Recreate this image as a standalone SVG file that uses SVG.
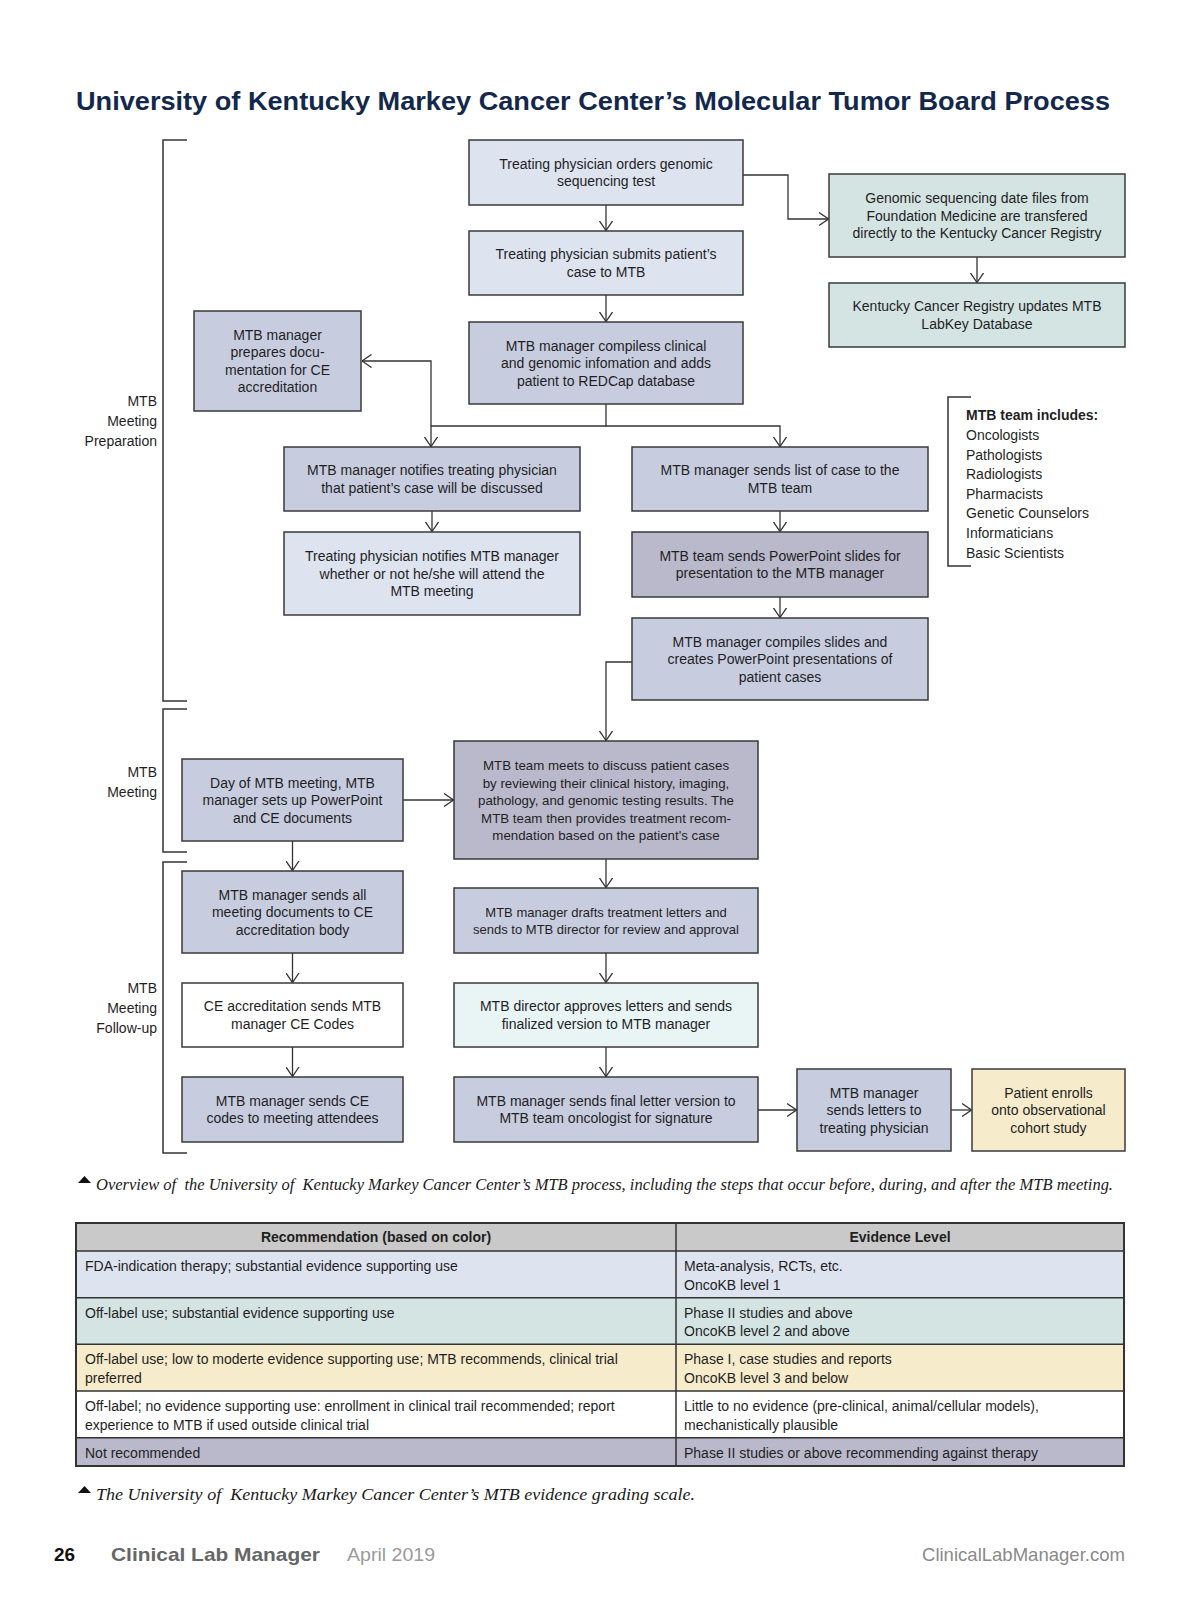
<svg xmlns="http://www.w3.org/2000/svg" width="1200" height="1613" viewBox="0 0 1200 1613">
<defs>
<marker id="ah" viewBox="0 0 10 14" refX="9.5" refY="7" markerWidth="10" markerHeight="14" markerUnits="userSpaceOnUse" orient="auto">
<path d="M0,0.5 L9.5,7 L0,13.5" fill="none" stroke="#333" stroke-width="1.3"/>
</marker>
<style>
.box{stroke:#3a3a3a;stroke-width:1.5}
.lb{fill:#dde3ef}.mb{fill:#c7cddf}.db{fill:#bab9cb}.tl{fill:#d4e4e3}.cy{fill:#e9f4f5}.cr{fill:#f6ebcb}.wh{fill:#ffffff}.hd{fill:#c9c9c9}
.t{font-family:"Liberation Sans",Arial,sans-serif;font-size:14px;fill:#1f1f1f;text-anchor:middle}
.c{font-size:13.3px}.c2{font-size:13px}
.l{font-family:"Liberation Sans",Arial,sans-serif;font-size:14px;fill:#1f1f1f}
.r{font-family:"Liberation Sans",Arial,sans-serif;font-size:14px;fill:#1f1f1f;text-anchor:end}
.b{font-weight:bold}
.conn path{fill:none;stroke:#333;stroke-width:1.3}
.brk path{fill:none;stroke:#333;stroke-width:1.5}
.cap{font-family:"Liberation Serif","Times New Roman",serif;font-style:italic;font-size:17px;fill:#1a1a1a}
</style>
</defs>
<rect width="1200" height="1613" fill="#ffffff"/>

<text x="76" y="110" font-family="Liberation Sans,Arial,sans-serif" font-weight="bold" font-size="26" fill="#14284b" textLength="1034" lengthAdjust="spacingAndGlyphs">University of Kentucky Markey Cancer Center’s Molecular Tumor Board Process</text>

<g class="brk">
<path d="M187,140 H163 V701 H187"/>
<path d="M187,709 H163 V852 H187"/>
<path d="M187,862 H163 V1153 H187"/>
<path d="M971,397 H948 V566 H971"/>
</g>
<g id="phase-labels">
<text class="r" x="157" y="406">MTB</text>
<text class="r" x="157" y="426">Meeting</text>
<text class="r" x="157" y="446">Preparation</text>
<text class="r" x="157" y="777">MTB</text>
<text class="r" x="157" y="797">Meeting</text>
<text class="r" x="157" y="993">MTB</text>
<text class="r" x="157" y="1013">Meeting</text>
<text class="r" x="157" y="1033">Follow-up</text>
</g>
<g id="team-list">
<text class="l b" x="966" y="420">MTB team includes:</text>
<text class="l" x="966" y="440">Oncologists</text>
<text class="l" x="966" y="459.6">Pathologists</text>
<text class="l" x="966" y="479.2">Radiologists</text>
<text class="l" x="966" y="498.8">Pharmacists</text>
<text class="l" x="966" y="518.4">Genetic Counselors</text>
<text class="l" x="966" y="538">Informaticians</text>
<text class="l" x="966" y="557.6">Basic Scientists</text>
</g>

<g class="conn">
<path d="M606,205 V230.5" marker-end="url(#ah)"/>
<path d="M606,295 V321.5" marker-end="url(#ah)"/>
<path d="M606,404 V426 H780 V446.5" marker-end="url(#ah)"/>
<path d="M606,426 H431 V446.5" marker-end="url(#ah)"/>
<path d="M431,426 V361 H362" marker-end="url(#ah)"/>
<path d="M743,175 H788 V219 H828.5" marker-end="url(#ah)"/>
<path d="M977,257 V282.5" marker-end="url(#ah)"/>
<path d="M432,511 V531.5" marker-end="url(#ah)"/>
<path d="M780,511 V531.5" marker-end="url(#ah)"/>
<path d="M780,597 V617.5" marker-end="url(#ah)"/>
<path d="M632,662 H606 V740.5" marker-end="url(#ah)"/>
<path d="M403,800 H453.5" marker-end="url(#ah)"/>
<path d="M292.5,841 V870.5" marker-end="url(#ah)"/>
<path d="M292.5,953 V982.5" marker-end="url(#ah)"/>
<path d="M292.5,1047 V1076.5" marker-end="url(#ah)"/>
<path d="M606,859 V887.5" marker-end="url(#ah)"/>
<path d="M606,953 V982.5" marker-end="url(#ah)"/>
<path d="M606,1047 V1076.5" marker-end="url(#ah)"/>
<path d="M758,1110 H796.5" marker-end="url(#ah)"/>
<path d="M951,1110 H971.5" marker-end="url(#ah)"/>
</g>

<g id="n1"><rect class="box lb" x="469" y="140" width="274" height="65"/>
<text class="t"><tspan x="606" y="168.8">Treating physician orders genomic</tspan><tspan x="606" y="186.3">sequencing test</tspan></text></g>
<g id="n2"><rect class="box lb" x="469" y="231" width="274" height="64"/>
<text class="t"><tspan x="606" y="259.3">Treating physician submits patient’s</tspan><tspan x="606" y="276.8">case to MTB</tspan></text></g>
<g id="n3"><rect class="box mb" x="469" y="322" width="274" height="82"/>
<text class="t"><tspan x="606" y="350.5">MTB manager compiless clinical</tspan><tspan x="606" y="368">and genomic infomation and adds</tspan><tspan x="606" y="385.5">patient to REDCap database</tspan></text></g>
<g id="n4"><rect class="box tl" x="829" y="174" width="296" height="83"/>
<text class="t"><tspan x="977" y="203">Genomic sequencing date files from</tspan><tspan x="977" y="220.5">Foundation Medicine are transfered</tspan><tspan x="977" y="238">directly to the Kentucky Cancer Registry</tspan></text></g>
<g id="n5"><rect class="box tl" x="829" y="283" width="296" height="64"/>
<text class="t"><tspan x="977" y="311.3">Kentucky Cancer Registry updates MTB</tspan><tspan x="977" y="328.8">LabKey Database</tspan></text></g>
<g id="n6"><rect class="box mb" x="194" y="311" width="167" height="100"/>
<text class="t"><tspan x="277.5" y="339.8">MTB manager</tspan><tspan x="277.5" y="357.3">prepares docu-</tspan><tspan x="277.5" y="374.8">mentation for CE</tspan><tspan x="277.5" y="392.3">accreditation</tspan></text></g>
<g id="n7"><rect class="box mb" x="284" y="447" width="296" height="64"/>
<text class="t"><tspan x="432" y="475.3">MTB manager notifies treating physician</tspan><tspan x="432" y="492.8">that patient’s case will be discussed</tspan></text></g>
<g id="n8"><rect class="box mb" x="632" y="447" width="296" height="64"/>
<text class="t"><tspan x="780" y="475.3">MTB manager sends list of case to the</tspan><tspan x="780" y="492.8">MTB team</tspan></text></g>
<g id="n9"><rect class="box lb" x="284" y="532" width="296" height="83"/>
<text class="t"><tspan x="432" y="561">Treating physician notifies MTB manager</tspan><tspan x="432" y="578.5">whether or not he/she will attend the</tspan><tspan x="432" y="596">MTB meeting</tspan></text></g>
<g id="n10"><rect class="box db" x="632" y="532" width="296" height="65"/>
<text class="t"><tspan x="780" y="560.8">MTB team sends PowerPoint slides for</tspan><tspan x="780" y="578.3">presentation to the MTB manager</tspan></text></g>
<g id="n11"><rect class="box mb" x="632" y="618" width="296" height="82"/>
<text class="t"><tspan x="780" y="646.5">MTB manager compiles slides and</tspan><tspan x="780" y="664">creates PowerPoint presentations of</tspan><tspan x="780" y="681.5">patient cases</tspan></text></g>
<g id="n12"><rect class="box db" x="454" y="741" width="304" height="118"/>
<text class="t c"><tspan x="606" y="770">MTB team meets to discuss patient cases</tspan><tspan x="606" y="787.5">by reviewing their clinical history, imaging,</tspan><tspan x="606" y="805">pathology, and genomic testing results. The</tspan><tspan x="606" y="822.5">MTB team then provides treatment recom-</tspan><tspan x="606" y="840">mendation based on the patient's case</tspan></text></g>
<g id="n13"><rect class="box mb" x="182" y="759" width="221" height="82"/>
<text class="t"><tspan x="292.5" y="787.5">Day of MTB meeting, MTB</tspan><tspan x="292.5" y="805">manager sets up PowerPoint</tspan><tspan x="292.5" y="822.5">and CE documents</tspan></text></g>
<g id="n14"><rect class="box mb" x="182" y="871" width="221" height="82"/>
<text class="t"><tspan x="292.5" y="899.5">MTB manager sends all</tspan><tspan x="292.5" y="917">meeting documents to CE</tspan><tspan x="292.5" y="934.5">accreditation body</tspan></text></g>
<g id="n15"><rect class="box wh" x="182" y="983" width="221" height="64"/>
<text class="t"><tspan x="292.5" y="1011.3">CE accreditation sends MTB</tspan><tspan x="292.5" y="1028.8">manager CE Codes</tspan></text></g>
<g id="n16"><rect class="box mb" x="182" y="1077" width="221" height="65"/>
<text class="t"><tspan x="292.5" y="1105.8">MTB manager sends CE</tspan><tspan x="292.5" y="1123.3">codes to meeting attendees</tspan></text></g>
<g id="n17"><rect class="box mb" x="454" y="888" width="304" height="65"/>
<text class="t c2"><tspan x="606" y="916.8">MTB manager drafts treatment letters and</tspan><tspan x="606" y="934.3">sends to MTB director for review and approval</tspan></text></g>
<g id="n18"><rect class="box cy" x="454" y="983" width="304" height="64"/>
<text class="t"><tspan x="606" y="1011.3">MTB director approves letters and sends</tspan><tspan x="606" y="1028.8">finalized version to MTB manager</tspan></text></g>
<g id="n19"><rect class="box mb" x="454" y="1077" width="304" height="65"/>
<text class="t"><tspan x="606" y="1105.8">MTB manager sends final letter version to</tspan><tspan x="606" y="1123.3">MTB team oncologist for signature</tspan></text></g>
<g id="n20"><rect class="box mb" x="797" y="1069" width="154" height="82"/>
<text class="t"><tspan x="874" y="1097.5">MTB manager</tspan><tspan x="874" y="1115">sends letters to</tspan><tspan x="874" y="1132.5">treating physician</tspan></text></g>
<g id="n21"><rect class="box cr" x="972" y="1069" width="153" height="82"/>
<text class="t"><tspan x="1048.5" y="1097.5">Patient enrolls</tspan><tspan x="1048.5" y="1115">onto observational</tspan><tspan x="1048.5" y="1132.5">cohort study</tspan></text></g>

<g id="caption1">
<polygon points="78,1183 91,1183 84.5,1176" fill="#111"/>
<text class="cap" x="96" y="1190" textLength="1017" lengthAdjust="spacingAndGlyphs" xml:space="preserve">Overview of  the University of  Kentucky Markey Cancer Center’s MTB process, including the steps that occur before, during, and after the MTB meeting.</text>
</g>

<g id="table">
<rect class="hd" x="76" y="1223" width="1048" height="28"/>
<rect class="lb" x="76" y="1251" width="1048" height="46.7"/>
<rect class="tl" x="76" y="1297.7" width="1048" height="46.6"/>
<rect class="cr" x="76" y="1344.3" width="1048" height="46.7"/>
<rect class="wh" x="76" y="1391" width="1048" height="46.7"/>
<rect class="db" x="76" y="1437.7" width="1048" height="28.3"/>
<g fill="none" stroke="#333" stroke-width="1.5">
<path d="M76,1251 H1124 M76,1297.7 H1124 M76,1344.3 H1124 M76,1391 H1124 M76,1437.7 H1124 M676,1223 V1466"/>
<rect x="76" y="1223" width="1048" height="243" stroke-width="2"/>
</g>
<text class="t b" x="376" y="1242">Recommendation (based on color)</text>
<text class="t b" x="900" y="1242">Evidence Level</text>
<text class="l" x="85" y="1271">FDA-indication therapy; substantial evidence supporting use</text>
<text class="l" x="684" y="1271">Meta-analysis, RCTs, etc.</text>
<text class="l" x="684" y="1289.7">OncoKB level 1</text>
<text class="l" x="85" y="1317.7">Off-label use; substantial evidence supporting use</text>
<text class="l" x="684" y="1317.7">Phase II studies and above</text>
<text class="l" x="684" y="1336.4">OncoKB level 2 and above</text>
<text class="l" x="85" y="1364.3">Off-label use; low to moderte evidence supporting use; MTB recommends, clinical trial</text>
<text class="l" x="85" y="1383">preferred</text>
<text class="l" x="684" y="1364.3">Phase I, case studies and reports</text>
<text class="l" x="684" y="1383">OncoKB level 3 and below</text>
<text class="l" x="85" y="1411">Off-label; no evidence supporting use: enrollment in clinical trail recommended; report</text>
<text class="l" x="85" y="1429.7">experience to MTB if used outside clinical trial</text>
<text class="l" x="684" y="1411">Little to no evidence (pre-clinical, animal/cellular models),</text>
<text class="l" x="684" y="1429.7">mechanistically plausible</text>
<text class="l" x="85" y="1458">Not recommended</text>
<text class="l" x="684" y="1458">Phase II studies or above recommending against therapy</text>
</g>

<g id="caption2">
<polygon points="78,1493 91,1493 84.5,1486" fill="#111"/>
<text class="cap" x="96" y="1500" textLength="599" lengthAdjust="spacingAndGlyphs" xml:space="preserve">The University of  Kentucky Markey Cancer Center’s MTB evidence grading scale.</text>
</g>

<g id="footer" font-family="Liberation Sans,Arial,sans-serif">
<text x="54" y="1561" font-size="19" font-weight="bold" fill="#111" textLength="21" lengthAdjust="spacingAndGlyphs">26</text>
<text x="111" y="1561" font-size="19" font-weight="bold" fill="#666" textLength="209" lengthAdjust="spacingAndGlyphs">Clinical Lab Manager</text>
<text x="347" y="1561" font-size="19" fill="#9a9a9a" textLength="88" lengthAdjust="spacingAndGlyphs">April 2019</text>
<text x="922" y="1561" font-size="19" fill="#8a8a8a" textLength="203" lengthAdjust="spacingAndGlyphs">ClinicalLabManager.com</text>
</g>
</svg>
